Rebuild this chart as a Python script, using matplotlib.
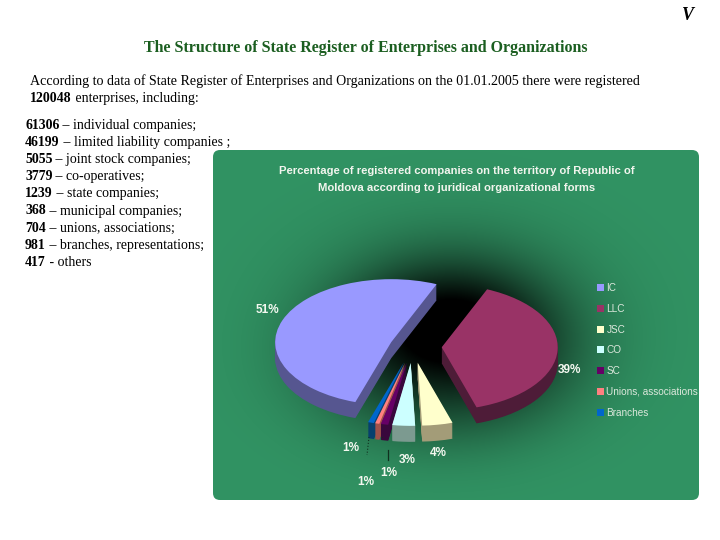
import numpy as np
import matplotlib
matplotlib.use('Agg')
import matplotlib.pyplot as plt
from matplotlib.patches import FancyBboxPatch

# data
form_names = ['IC', 'LLC', 'JSC', 'CO', 'SC', 'Unions, associations', 'Branches']
form_counts = [61306, 46199, 5055, 3779, 1239, 704, 981]
top_colors = ['#9999FF', '#993366', '#FFFFCC', '#CCFFFF', '#660066', '#FF8080', '#0066CC']
side_colors = ['#565690', '#4E1C38', '#A39C78', '#7C9A90', '#38083C', '#A0524A', '#07406E']

list_counts = ['61306', '46199', '5055', '3779', '1239', '368', '704', '981', '417']
list_names = [' – individual companies;', ' – limited liability companies ;', ' – joint stock companies;',
              ' – co-operatives;', ' – state companies;', ' – municipal companies;',
              ' – unions, associations;', ' – branches, representations;', ' - others']

page_title = 'The Structure of State Register of Enterprises and Organizations'
intro_line = 'According to data of State Register of Enterprises and Organizations on the 01.01.2005 there were registered'
total_count = '120048'
chart_title = 'Percentage of registered companies on the territory of Republic of\nMoldova according to juridical organizational forms'

# label places follow the form_counts order
label_xy = [(267, 310), (569, 370), (438, 453), (407, 460), (389, 473), (366, 482), (351, 448)]

W, H = 720, 540
SERIF = ['Liberation Serif', 'DejaVu Serif']
SANS = ['Liberation Sans', 'DejaVu Sans']

fig = plt.figure(figsize=(W / 100, H / 100), dpi=100, facecolor='white')

# pixel overlay, origin top left like the reference
bg = fig.add_axes([0, 0, 1, 1])
bg.set_xlim(0, W)
bg.set_ylim(H, 0)
bg.axis('off')

# green panel with dark glow behind the pie
px0, px1, py0, py1 = 213, 699, 150, 500
xx, yy = np.meshgrid(np.arange(px0, px1), np.arange(py0, py1))
glow = 0.95 * np.exp(-(((xx - 452) / 105.0) ** 2 + ((yy - 325) / 72.0) ** 2) ** 0.9)
glow += 0.30 * np.exp(-(((xx - 440) / 140.0) ** 2 + ((yy - 365) / 85.0) ** 2) ** 1.5)
glow = np.clip(glow, 0, 1)[..., None]
green = np.array([0x31, 0x93, 0x63]) / 255.0
im = bg.imshow(green * (1 - glow), extent=(px0, px1, py1, py0), aspect='auto', zorder=1)
panel = FancyBboxPatch((px0 + 7, py0 + 7), px1 - px0 - 14, py1 - py0 - 14,
                       boxstyle='round,pad=7,rounding_size=7', transform=bg.transData,
                       facecolor='none', edgecolor='none')
bg.add_patch(panel)
im.set_clip_path(panel)
bg.set_xlim(0, W)
bg.set_ylim(H, 0)

# pie axes: squashed, one unit is a pixels wide and b pixels high
cx, cy, a, b = 412.5, 346.5, 116.0, 63.0
pie_ax = fig.add_axes([0, 0, 1, 1])
pie_ax.patch.set_alpha(0)
depth = 16
explode = [0.196, 0.252, 0.26, 0.26, 0.26, 0.26, 0.26]
for d in range(depth, 0, -1):
    pie_ax.pie(form_counts, colors=side_colors, startangle=252, counterclock=False,
               explode=explode, center=(0, -d / b))
wedges, _ = pie_ax.pie(form_counts, colors=top_colors, startangle=252, counterclock=False,
                       explode=explode, center=(0, 0))
pie_ax.set_aspect('auto')
pie_ax.set_xlim(-cx / a, (W - cx) / a)
pie_ax.set_ylim(-(H - cy) / b, cy / b)
pie_ax.axis('off')

# overlay for text
top = fig.add_axes([0, 0, 1, 1])
top.patch.set_alpha(0)
top.set_xlim(0, W)
top.set_ylim(H, 0)
top.axis('off')

top.text(688, 15, 'V', family=SERIF, style='italic', weight='bold', fontsize=13, ha='center', va='center')
top.text(366, 48, page_title, family=SERIF, weight='bold', fontsize=11.5, color='#1B5E20', ha='center', va='center')
top.text(30, 85, intro_line, family=SERIF, fontsize=10.1, va='baseline')
t = top.text(30, 102, total_count, family=SERIF, weight='bold', fontsize=10, va='baseline')
top.annotate(' enterprises, including:', xy=(1, 0), xycoords=t, family=SERIF, fontsize=10, va='bottom')

for i, (n, s) in enumerate(zip(list_counts, list_names)):
    t = top.text(25, 129 + i * 17.1, n, family=SERIF, weight='bold', fontsize=10, va='baseline')
    top.annotate(s, xy=(1, 0), xycoords=t, family=SERIF, fontsize=10, va='bottom')

top.text(457, 179.5, chart_title, family=SANS, weight='bold', fontsize=8.1, color='#F2F5EE',
         ha='center', va='center', linespacing=1.9)

total = sum(form_counts)
for v, (lx, ly) in zip(form_counts, label_xy):
    top.text(lx, ly, f'{round(100 * v / total)}%', family=SANS, weight='bold', fontsize=8.5,
             color='#F4F8F0', ha='center', va='center')

# leader lines of the small slices
top.plot([369, 367], [437, 455], color='#10301f', lw=0.8, ls=':')
top.plot([383, 382], [437, 439], color='#10301f', lw=0.8, ls=':')
top.plot([388, 388], [450, 460], color='#10301f', lw=0.9)

leg = top.legend(wedges, form_names, loc='upper left', bbox_to_anchor=(597, 283), bbox_transform=top.transData,
                 frameon=False, handlelength=0.7, handleheight=0.7, handletextpad=0.25, labelspacing=1.08,
                 borderpad=0, borderaxespad=0, prop={'family': SANS, 'size': 7.2}, labelcolor='#DCE8DC')

fig.savefig('out.png', dpi=100, facecolor='white')
